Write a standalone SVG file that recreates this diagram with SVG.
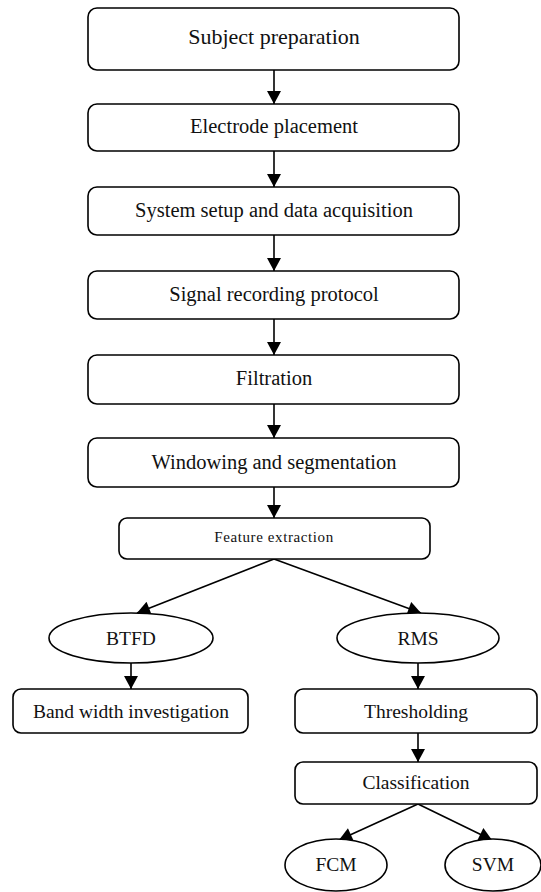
<svg xmlns="http://www.w3.org/2000/svg" width="541" height="892" viewBox="0 0 541 892">
<defs>
<marker id="ah" markerWidth="14" markerHeight="14" viewBox="0 0 13 14" refX="13" refY="7" orient="auto" markerUnits="userSpaceOnUse">
<path d="M0,0 L13,7 L0,14 Z" fill="#000"/>
</marker>
<style>
.box{fill:#fff;stroke:#000;stroke-width:1.6}
.t{font-family:"Liberation Serif","Times New Roman",serif;fill:#111;text-anchor:middle;dominant-baseline:central}
.edge{stroke:#000;stroke-width:1.6;fill:none;marker-end:url(#ah)}
</style>
</defs>
<rect width="541" height="892" fill="#fff"/>
<g id="connectors">
<line class="edge" x1="274" y1="70" x2="274" y2="104"/>
<line class="edge" x1="274" y1="151" x2="274" y2="187"/>
<line class="edge" x1="274" y1="235" x2="274" y2="271"/>
<line class="edge" x1="274" y1="319" x2="274" y2="355"/>
<line class="edge" x1="274" y1="404" x2="274" y2="438"/>
<line class="edge" x1="274" y1="487" x2="274" y2="518"/>
<line class="edge" x1="274" y1="559" x2="137" y2="613"/>
<line class="edge" x1="274" y1="559" x2="421" y2="613"/>
<line class="edge" x1="131" y1="663" x2="131" y2="689"/>
<line class="edge" x1="418" y1="663" x2="418" y2="689"/>
<line class="edge" x1="418" y1="733" x2="418" y2="762"/>
<line class="edge" x1="418" y1="804" x2="339" y2="840"/>
<line class="edge" x1="418" y1="804" x2="492" y2="840"/>
</g>
<g id="n1"><rect class="box" x="88" y="8" width="371" height="62" rx="9"/><text class="t" x="274" y="36" font-size="22">Subject preparation</text></g>
<g id="n2"><rect class="box" x="88" y="104" width="371" height="47" rx="9"/><text class="t" x="274" y="126" font-size="20.5">Electrode placement</text></g>
<g id="n3"><rect class="box" x="88" y="187" width="371" height="48" rx="9"/><text class="t" x="274" y="210" font-size="20.5">System setup and data acquisition</text></g>
<g id="n4"><rect class="box" x="88" y="271" width="371" height="48" rx="9"/><text class="t" x="274" y="294" font-size="20.5">Signal recording protocol</text></g>
<g id="n5"><rect class="box" x="88" y="355" width="371" height="49" rx="9"/><text class="t" x="274" y="378" font-size="20.5">Filtration</text></g>
<g id="n6"><rect class="box" x="88" y="438" width="371" height="49" rx="9"/><text class="t" x="274" y="462" font-size="20.5">Windowing and segmentation</text></g>
<g id="n7"><rect class="box" x="119" y="518" width="311" height="41" rx="8"/><text class="t" x="274" y="537" font-size="15" letter-spacing="0.6">Feature extraction</text></g>
<g id="n8"><ellipse class="box" cx="131" cy="638" rx="82" ry="25"/><text class="t" x="131" y="638" font-size="19.5">BTFD</text></g>
<g id="n9"><ellipse class="box" cx="418" cy="638" rx="81" ry="25"/><text class="t" x="418" y="638" font-size="19.5">RMS</text></g>
<g id="n10"><rect class="box" x="13" y="689" width="235" height="44" rx="8"/><text class="t" x="131" y="711" font-size="19.5">Band width investigation</text></g>
<g id="n11"><rect class="box" x="295" y="689" width="242" height="44" rx="8"/><text class="t" x="416" y="711" font-size="19.5">Thresholding</text></g>
<g id="n12"><rect class="box" x="295" y="762" width="242" height="42" rx="8"/><text class="t" x="416" y="782" font-size="19.5">Classification</text></g>
<g id="n13"><ellipse class="box" cx="336" cy="865" rx="51" ry="26"/><text class="t" x="336" y="864" font-size="19.5">FCM</text></g>
<g id="n14"><ellipse class="box" cx="493" cy="865" rx="48" ry="26"/><text class="t" x="493" y="864" font-size="19.5">SVM</text></g>
</svg>
